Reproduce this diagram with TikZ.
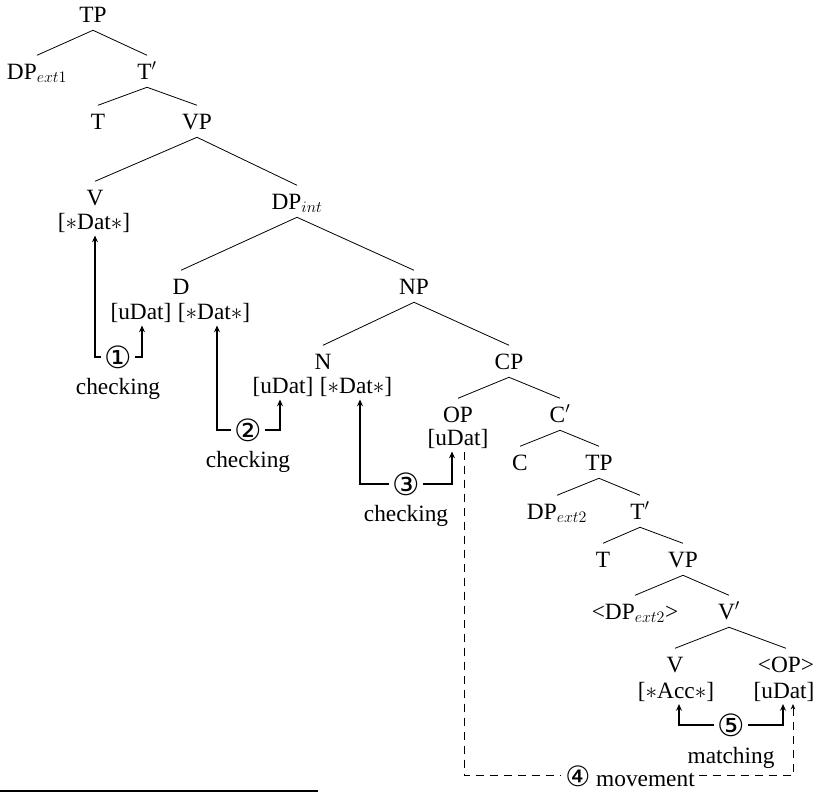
\documentclass[tikz,border=0pt]{standalone}
\usepackage{fontspec}
\setmainfont{Liberation Serif}
\newfontfamily\circf{DejaVu Sans}
\usetikzlibrary{arrows.meta}
\begin{document}
\begin{tikzpicture}[x=0.75pt,y=-0.75pt,
  font=\fontsize{17.5}{21}\selectfont,
  tn/.style={anchor=base, inner xsep=1pt, inner ysep=6pt, text height=11.6pt, text depth=0pt},
  ft/.style={anchor=base, inner sep=2pt},
  circ/.style={font=\circf\fontsize{23}{24}\selectfont, inner sep=2.5pt},
  lab/.style={anchor=base, inner sep=1pt},
  br/.style={line width=0.6pt},
  chk/.style={line width=1.4pt, -{Stealth[length=5pt,width=4.5pt]}},
  mvline/.style={line width=0.7pt, dash pattern=on 6pt off 4.5pt},
  mvarr/.style={line width=0.7pt, dash pattern=on 6pt off 4.5pt, -{Stealth[length=4pt,width=3.5pt]}}]
\useasboundingbox (0,0) rectangle (816,794);
% tree nodes
\node[tn] (tp1) at (93,22) {TP};
\node[tn] (dpe1) at (37,79) {DP$_{ext1}$};
\node[tn] (tb1) at (147,79) {T$'$};
\node[tn] (t1) at (98,129) {T};
\node[tn] (vp1) at (197,129) {VP};
\node[tn] (v1) at (95,205) {V};
\node[ft] (fv1) at (94,229.5) {[$\ast$Dat$\ast$]};
\node[tn] (dpint) at (297,209) {DP$_{int}$};
\node[tn] (d) at (181,294) {D};
\node[ft] (fd1) at (141,319.5) {[uDat]};
\node[ft] (fd2) at (214,319.5) {[$\ast$Dat$\ast$]};
\node[tn] (np) at (414,294) {NP};
\node[tn] (n) at (323,369) {N};
\node[ft] (fn1) at (283,393.5) {[uDat]};
\node[ft] (fn2) at (356,393.5) {[$\ast$Dat$\ast$]};
\node[tn] (cp) at (509,369) {CP};
\node[tn] (op) at (458,422) {OP};
\node[ft] (fop) at (458,445.5) {[uDat]};
\node[tn] (cb) at (560,422) {C$'$};
\node[tn] (c) at (520,470) {C};
\node[tn] (tp2) at (599,470) {TP};
\node[tn] (dpe2) at (557,519) {DP$_{ext2}$};
\node[tn] (tb2) at (640,519) {T$'$};
\node[tn] (t2) at (603,567) {T};
\node[tn] (vp2) at (683,567) {VP};
\node[tn] (dpe2t) at (635,619) {<DP$_{ext2}$>};
\node[tn] (vb) at (729,619) {V$'$};
\node[tn] (v2) at (675,672) {V};
\node[ft] (fv2) at (676,698) {[$\ast$Acc$\ast$]};
\node[tn] (opt) at (786,672) {<OP>};
\node[ft] (fopt) at (784,698) {[uDat]};
% branches
\draw[br] (tp1.south) -- (dpe1.north);
\draw[br] (tp1.south) -- (tb1.north);
\draw[br] (tb1.south) -- (t1.north);
\draw[br] (tb1.south) -- (vp1.north);
\draw[br] (vp1.south) -- (v1.north);
\draw[br] (vp1.south) -- (dpint.north);
\draw[br] (dpint.south) -- (d.north);
\draw[br] (dpint.south) -- (np.north);
\draw[br] (np.south) -- (n.north);
\draw[br] (np.south) -- (cp.north);
\draw[br] (cp.south) -- (op.north);
\draw[br] (cp.south) -- (cb.north);
\draw[br] (cb.south) -- (c.north);
\draw[br] (cb.south) -- (tp2.north);
\draw[br] (tp2.south) -- (dpe2.north);
\draw[br] (tp2.south) -- (tb2.north);
\draw[br] (tb2.south) -- (t2.north);
\draw[br] (tb2.south) -- (vp2.north);
\draw[br] (vp2.south) -- (dpe2t.north);
\draw[br] (vp2.south) -- (vb.north);
\draw[br] (vb.south) -- (v2.north);
\draw[br] (vb.south) -- (opt.north);
% checking / matching labels
\node[circ] (one) at (118,357) {①};
\node[lab] (ck1) at (118,394) {checking};
\node[circ] (two) at (248,430) {②};
\node[lab] (ck2) at (248,467) {checking};
\node[circ] (three) at (406,484) {③};
\node[lab] (ck3) at (406,521) {checking};
\node[circ] (five) at (731,725) {⑤};
\node[lab] (mt) at (731,763) {matching};
\node[lab, inner sep=3pt] (mv) at (630,786) {{\circf\fontsize{21}{22}\selectfont ④}~movement};
% arrows
\draw[chk] (one.west) -| ([xshift=0.75pt]fv1.south);
\draw[chk] (one.east) -| ([xshift=0.75pt]fd1.south);
\draw[chk] (two.west) -| ([xshift=2.25pt]fd2.south);
\draw[chk] (two.east) -| ([xshift=-2.25pt]fn1.south);
\draw[chk] (three.west) -| ([xshift=3pt]fn2.south);
\draw[chk] (three.east) -| ([xshift=-4.5pt]fop.south);
\draw[chk] (five.west) -| ([xshift=2.25pt]fv2.south);
\draw[chk] (five.east) -| ([xshift=-0.75pt]fopt.south);
\draw[mvline] ([xshift=4.5pt]fop.south) |- (mv.west);
\draw[mvarr] (mv.east) -| ([xshift=6.75pt]fopt.south);
% footnote rule
\draw[line width=0.8pt] (0,791) -- (318,791);
\end{tikzpicture}
\end{document}
